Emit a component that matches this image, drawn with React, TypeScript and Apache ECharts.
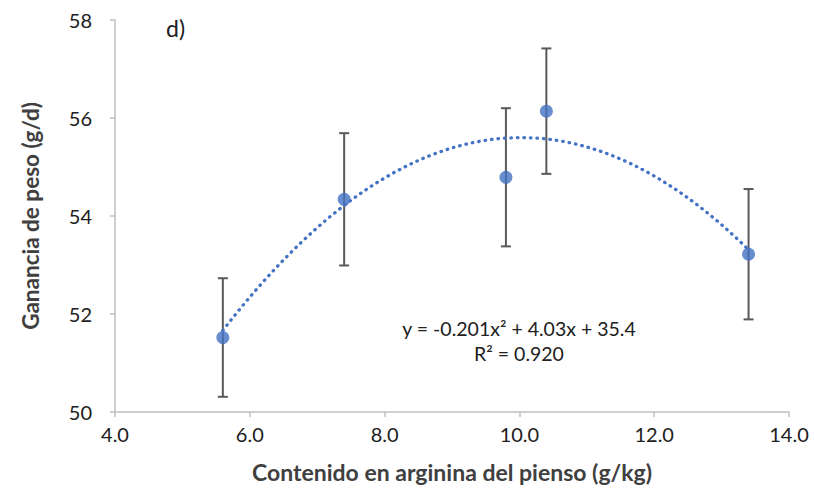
import React, { useEffect, useRef } from "react";
import * as echarts from "echarts";

const arginine = [5.6, 7.4, 9.8, 10.4, 13.4];
const weightGain = [51.52, 54.34, 54.79, 56.14, 53.22];
const errorHalf = [1.21, 1.35, 1.41, 1.28, 1.33];
const trendCoefficients = [-0.201, 4.03, 35.4]; // a, b, c as printed in the chart
const rSquared = "0.920";
const xTicks = [4, 6, 8, 10, 12, 14];
const yTicks = [50, 52, 54, 56, 58];

const FONT = "Lato";
const BLUE = "#4472C4";

export default function App() {
  const ref = useRef<HTMLDivElement>(null);
  useEffect(() => {
    if (!ref.current) return;
    const chart = echarts.init(ref.current, undefined, { renderer: "svg" });
    const [a, b, c] = trendCoefficients;
    const trend: number[][] = [];
    const x0 = arginine[0];
    const x1 = arginine[arginine.length - 1];
    const steps = 120;
    for (let i = 0; i <= steps; i++) {
      const x = x0 + ((x1 - x0) * i) / steps;
      trend.push([x, a * x * x + b * x + c]);
    }
    const points = arginine.map((x, i) => [x, weightGain[i]]);
    const bars = arginine.map((x, i) => [x, weightGain[i] - errorHalf[i], weightGain[i] + errorHalf[i]]);
    const eq = `y = ${a.toFixed(3)}x² + ${b.toFixed(2)}x + ${c.toFixed(1)}`;

    chart.setOption({
      animation: false,
      textStyle: { fontFamily: FONT },
      grid: { left: 115, right: 25, top: 20, bottom: 80, containLabel: false },
      xAxis: {
        type: "value",
        min: xTicks[0],
        max: xTicks[xTicks.length - 1],
        interval: 2,
        name: "Contenido en arginina del pienso (g/kg)",
        nameLocation: "middle",
        nameGap: 48,
        nameTextStyle: { fontFamily: FONT, fontWeight: "bold", fontSize: 23, color: "#404040" },
        axisLine: { lineStyle: { color: "#BFBFBF", width: 1.5 } },
        axisTick: { show: true, length: 5, lineStyle: { color: "#BFBFBF", width: 1.5 } },
        axisLabel: { fontFamily: FONT, fontSize: 20, color: "#202020", margin: 12, formatter: (v: number) => v.toFixed(1) },
        splitLine: { show: false },
      },
      yAxis: {
        type: "value",
        min: yTicks[0],
        max: yTicks[yTicks.length - 1],
        interval: 2,
        name: "Ganancia de peso (g/d)",
        nameLocation: "middle",
        nameGap: 73,
        nameTextStyle: { fontFamily: FONT, fontWeight: "bold", fontSize: 22.5, color: "#404040" },
        axisLine: { show: true, lineStyle: { color: "#BFBFBF", width: 1.5 } },
        axisTick: { show: true, length: 5, lineStyle: { color: "#BFBFBF", width: 1.5 } },
        axisLabel: { fontFamily: FONT, fontSize: 20, color: "#202020", margin: 23 },
        splitLine: { show: false },
      },
      series: [
        {
          type: "custom",
          data: bars,
          z: 1,
          renderItem: (params: any, api: any) => {
            const x = api.value(0);
            const lo = api.coord([x, api.value(1)]);
            const hi = api.coord([x, api.value(2)]);
            const w = 5;
            const style = { stroke: "#595959", lineWidth: 2 };
            return {
              type: "group",
              children: [
                { type: "line", shape: { x1: lo[0], y1: lo[1], x2: hi[0], y2: hi[1] }, style },
                { type: "line", shape: { x1: lo[0] - w, y1: lo[1], x2: lo[0] + w, y2: lo[1] }, style },
                { type: "line", shape: { x1: hi[0] - w, y1: hi[1], x2: hi[0] + w, y2: hi[1] }, style },
              ],
            };
          },
        },
        {
          type: "scatter",
          data: points,
          symbol: "circle",
          symbolSize: 13,
          itemStyle: { color: BLUE },
          z: 2,
        },
        {
          type: "line",
          data: trend,
          showSymbol: false,
          smooth: false,
          z: 3,
          lineStyle: { color: BLUE, width: 3.3, type: [0.5, 6], cap: "round" },
        },
      ],
      graphic: [
        { type: "text", left: 166, top: 16, style: { text: "d)", font: `23px ${FONT}`, fill: "#202020" } },
        {
          type: "text",
          x: 519,
          y: 328,
          style: { text: eq, font: `19.5px ${FONT}`, fill: "#202020", textAlign: "center", textVerticalAlign: "middle" },
        },
        {
          type: "text",
          x: 519,
          y: 353,
          style: { text: `R² = ${rSquared}`, font: `19.5px ${FONT}`, fill: "#202020", textAlign: "center", textVerticalAlign: "middle" },
        },
      ],
    });
    return () => chart.dispose();
  }, []);
  return <div ref={ref} style={{ width: 814, height: 492, position: "absolute", left: 0, top: 0 }} />;
}
